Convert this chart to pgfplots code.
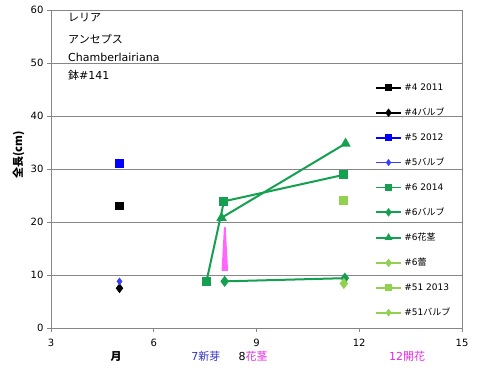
\documentclass[border=0pt]{standalone}
\usepackage{fontspec}
\setmainfont{DejaVu Sans}
\newfontfamily\jp{Noto Sans CJK JP}
\usepackage{pgfplots}
\pgfplotsset{compat=1.18}
\definecolor{gA}{RGB}{20,160,80}
\definecolor{gB}{RGB}{146,208,80}
\definecolor{bB}{RGB}{60,60,255}
\definecolor{pk}{RGB}{255,102,255}
\definecolor{mg}{RGB}{230,40,230}
\definecolor{sb}{RGB}{50,50,200}
\definecolor{ax}{RGB}{134,134,134}
\begin{document}
\begin{tikzpicture}
\begin{axis}[
  scale only axis, width=411pt, height=318pt,
  xmin=3, xmax=15, ymin=0, ymax=60,
  xtick={3,6,9,12,15}, ytick={0,10,...,60},
  ymajorgrids, grid style={ax, line width=0.8pt},
  axis line style={ax, line width=0.8pt},
  tick style={ax, line width=0.8pt}, tick align=outside, major tick length=4pt,
  xtick pos=bottom, ytick pos=left,
  /pgf/number format/assume math mode=true,
  ticklabel style={font=\fontsize{10}{12}\selectfont},
  xticklabel style={yshift=-4pt},
  ylabel={\jp\bfseries 全長(cm)},
  ylabel style={font=\fontsize{11}{13}\selectfont, at={(axis description cs:-0.056,0.545)}, anchor=south},
  clip=false,
  legend style={at={(axis cs:12.45,46.5)}, anchor=north west, draw=none, fill=none,
    font=\fontsize{9}{11}\selectfont, row sep=12.2pt, inner sep=0pt},
  legend cell align=left,
  legend image code/.code={\draw[mark repeat=2,mark phase=2,#1,line width=1.8pt,mark options={scale=0.7}] plot coordinates {(0cm,0cm) (0.45cm,0cm) (0.9cm,0cm)};},
]
\addplot[black, line width=1.2pt, mark=square*, mark size=3.5pt] coordinates {(5,23)};
\addlegendentry{\#4 2011}
\addplot[black, line width=1.2pt, mark=diamond*, mark size=4pt] coordinates {(5,7.5)};
\addlegendentry{\#4{\jp バルブ}}
\addplot[blue, line width=1.5pt, mark=square*, mark size=3.7pt] coordinates {(5,31)};
\addlegendentry{\#5 2012}
\addplot[bB, line width=1pt, mark=diamond*, mark size=3pt] coordinates {(5,8.8)};
\addlegendentry{\#5{\jp バルブ}}
\addplot[gA, line width=2pt, mark=square*, mark size=3.5pt] coordinates {(7.54,8.8) (8.05,23.9) (11.55,28.9)};
\addlegendentry{\#6 2014}
\addplot[gA, line width=2pt, mark=diamond*, mark size=4pt] coordinates {(8.07,8.8) (11.58,9.4)};
\addlegendentry{\#6{\jp バルブ}}
\addplot[gA, line width=2pt, mark=triangle*, mark size=4pt] coordinates {(7.98,20.8) (11.6,34.8)};
\addlegendentry{\#6{\jp 花茎}}
\addplot[gB, line width=2pt, mark=diamond*, mark size=4pt] coordinates {(11.55,8.4)};
\addlegendentry{\#6{\jp 蕾}}
\addplot[gB, line width=2pt, mark=square*, mark size=3.5pt] coordinates {(11.55,24)};
\addlegendentry{\#51 2013}
\addlegendimage{gB, mark=diamond*, mark size=3.5pt}
\addlegendentry{\#51{\jp バルブ}}
\addplot[pk, fill=pk, draw=none, forget plot] coordinates {(7.98,10.8) (8.17,10.8) (8.1,19.1) (8.05,19.1)} -- cycle;
\node[anchor=west, font=\fontsize{11}{13}\selectfont\jp] at (axis cs:3.4,58.5) {レリア};
\node[anchor=west, font=\fontsize{11}{13}\selectfont\jp] at (axis cs:3.4,54.5) {アンセプス};
\node[anchor=west, font=\fontsize{11}{13}\selectfont] at (axis cs:3.4,51.1) {Chamberlairiana};
\node[anchor=west, font=\fontsize{11}{13}\selectfont] at (axis cs:3.4,47.7) {{\jp 鉢}\#141};
\node[font=\fontsize{11}{13}\selectfont\jp\bfseries] at (axis cs:4.9,-5.4) {月};
\node[font=\fontsize{11}{13}\selectfont, text=sb] at (axis cs:7.52,-5.4) {7{\jp 新芽}};
\node[font=\fontsize{11}{13}\selectfont] at (axis cs:8.9,-5.4) {8{\color{mg}\jp 花茎}};
\node[font=\fontsize{11}{13}\selectfont, text=mg] at (axis cs:13.4,-5.4) {12{\jp 開花}};
\end{axis}
\pgfresetboundingbox
\path ([shift={(-51pt,-43pt)}]current axis.south west) rectangle ([shift={(20pt,10pt)}]current axis.north east);
\end{tikzpicture}
\end{document}
